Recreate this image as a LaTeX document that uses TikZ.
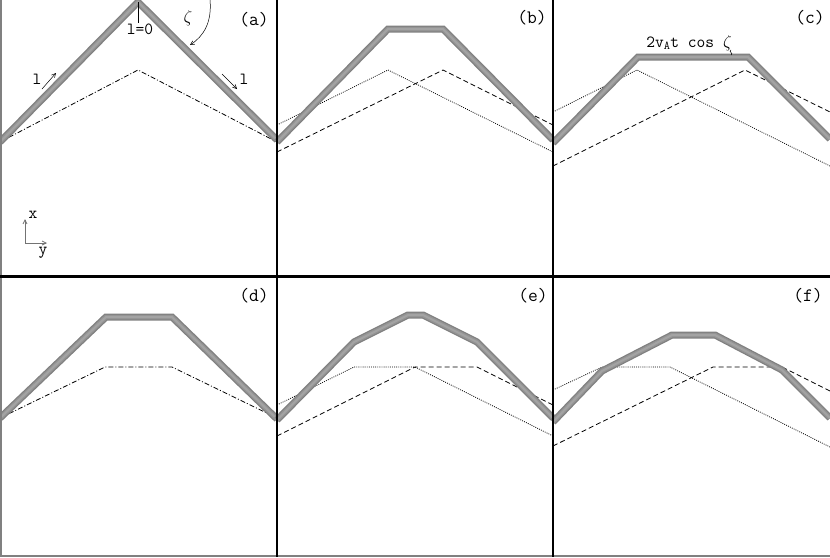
\documentclass[tikz,border=0pt]{standalone}
\usetikzlibrary{arrows.meta}
\definecolor{tubedark}{gray}{0.50}
\definecolor{tubemid}{gray}{0.58}
\definecolor{tubelight}{gray}{0.64}
\definecolor{framegray}{gray}{0.50}
\begin{document}
\begin{tikzpicture}[x=1pt,y=-1pt,
  tube/.style={draw=tubedark,line width=7pt,line join=miter,
    postaction={draw=tubemid,line width=4.5pt},
    postaction={draw=tubelight,line width=2pt}},
  dashdotline/.style={draw=black,line width=0.8pt,dash pattern=on 5pt off 2pt on 1pt off 2pt},
  dashedline/.style={draw=black,line width=0.8pt,dash pattern=on 5pt off 3pt},
  dottedline/.style={draw=black,line width=0.75pt,dash pattern=on 0.9pt off 1.2pt},
  divider/.style={draw=black,line width=2.5pt},
  outer/.style={draw=framegray,line width=1.5pt},
  lab/.style={font=\ttfamily\fontsize{19}{21}\selectfont,inner sep=0pt},
  small/.style={font=\ttfamily\fontsize{17}{19}\selectfont,inner sep=0pt},
  pointer/.style={draw=black,line width=0.5pt,-{Straight Barb[length=4pt,width=4pt]}},
  axis/.style={draw=gray!90!black,line width=0.8pt,-{Straight Barb[length=4pt,width=4pt]}}]
\useasboundingbox (0,0) rectangle (830,557);
\fill[white] (0,0) rectangle (830,557);

% ---------- panel (a)
\draw[dashdotline] (0,142) -- (138,70) -- (277,142);
\draw[tube] (0,142) -- (138,2) -- (277,140);
\coordinate (tickTop) at (138,2);
\node[small] (lzero) at (140,29) {l=0};
\draw[line width=0.5pt] (tickTop) -- (lzero.north -| tickTop);
\node[font=\fontsize{19}{21}\selectfont,inner sep=0pt] (zeta) at (188,18) {$\zeta$};
\coordinate (zs) at (210,0);
\coordinate (ze) at (190,45);
\draw[pointer] (zs) .. controls (212,22) and (204,36) .. (ze);
\node[small] (lleft) at (37,79) {l};
\coordinate (la1) at (42,89); \coordinate (la2) at (56,73);
\draw[pointer] (la1) -- (la2);
\node[small] (lright) at (244,79) {l};
\coordinate (ra1) at (222,74); \coordinate (ra2) at (237,89);
\draw[pointer] (ra1) -- (ra2);
\coordinate (ax0) at (25,243);
\coordinate (axx) at (25,219);
\coordinate (axy) at (47,243);
\draw[axis] (ax0) -- (axx);
\draw[axis] (ax0) -- (axy);
\node[small] (xlab) at (33,215) {x};
\node[small] (ylab) at (43,253) {y};
\node[lab] (pa) at (254,20) {(a)};

% ---------- panel (b)
\draw[dottedline] (277,125) -- (388,70) -- (553,152);
\draw[dashedline] (277,152) -- (443,70) -- (553,125);
\draw[tube] (277,142) -- (388,29) -- (443,29) -- (553,140);
\node[lab] (pb) at (532,18) {(b)};

% ---------- panel (c)
\draw[dottedline] (553,112) -- (637,70) -- (830,166);
\draw[dashedline] (553,166) -- (745,70) -- (830,112);
\draw[tube] (553,143) -- (638,57) -- (748,57) -- (830,139);
\node[small] (vlab) at (689,43) {2v$_{\mathtt{A}}$t cos $\zeta$};
\coordinate (w1) at (731,50);
\coordinate (w2) at (731,55);
\draw[line width=0.5pt] (w1) .. controls (728,52) and (734,53) .. (w2);
\node[lab] (pc) at (810,18) {(c)};

% ---------- panel (d)
\draw[dashdotline] (0,418) -- (105,367) -- (172,367) -- (277,418);
\draw[tube] (0,418) -- (106,317) -- (172,317) -- (277,419);
\node[lab] (pd) at (254,296) {(d)};

% ---------- panel (e)
\draw[dottedline] (277,405) -- (354,367) -- (415,367) -- (553,436);
\draw[dashedline] (277,436) -- (415,367) -- (477,367) -- (553,405);
\draw[tube] (277,420) -- (354,342) -- (408,315) -- (423,315) -- (477,342) -- (553,418);
\node[lab] (pe) at (533,296) {(e)};

% ---------- panel (f)
\draw[dottedline] (553,390) -- (602,367) -- (670,367) -- (830,447);
\draw[dashedline] (553,446) -- (713,367) -- (782,367) -- (830,391);
\draw[tube] (553,422) -- (602,371) -- (672,335) -- (715,335) -- (782,370) -- (830,418);
\node[lab] (pf) at (808,296) {(f)};

% ---------- frame
\draw[outer] (1,0) -- (1,557);
\draw[outer] (0,556) -- (830,556);
\draw[divider] (277,0) -- (277,557);
\draw[divider] (553,0) -- (553,557);
\draw[divider,line width=3pt] (0,276) -- (830,276);
\end{tikzpicture}
\end{document}
